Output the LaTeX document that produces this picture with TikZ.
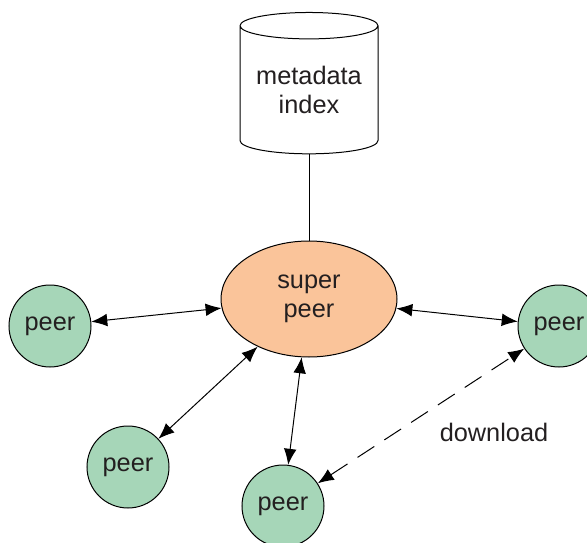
\documentclass[tikz,border=0pt]{standalone}
\usepackage{fontspec}
\setmainfont{Liberation Sans}
\usepackage{tikz}
\usetikzlibrary{positioning}
\usetikzlibrary{arrows.meta}
\usetikzlibrary{shapes.geometric}

\definecolor{peergreen}{RGB}{166,214,184}
\definecolor{superorange}{RGB}{250,196,154}
\definecolor{textgray}{RGB}{35,31,32}

\begin{document}
\begin{tikzpicture}[x=0.75pt,y=-0.75pt,line width=0.75pt,
	>={Latex[length=12pt,width=9.5pt]},
	every node/.style={font=\fontsize{19}{22}\selectfont, text=textgray, align=center},
	peerstyle/.style={circle, draw, fill=peergreen, minimum size=61.5pt, inner sep=0pt},
	superpeer/.style={ellipse, draw, fill=superorange, minimum width=132pt, minimum height=87pt, inner sep=0pt},
	indexdb/.style={cylinder, shape border rotate=90, aspect=0.25, draw, fill=white, minimum width=103.5pt, minimum height=106pt, inner sep=0pt},
	dload/.style={dash pattern=on 15pt off 9pt}]

	\useasboundingbox (0,0) rectangle (587,543);

	% super peer and its index
	\node (super) [superpeer] at (309,299) {super\\peer};
	\node (index) [indexdb] at (309,90) {metadata\\index};

	\draw (index) -- (super);

	% peers round the super peer
	\node (peerL) [peerstyle] at (50,326) {peer};
	\node (peerBL) [peerstyle] at (128,467) {peer};
	\node (peerB) [peerstyle] at (283,506) {peer};
	\node (peerR) [peerstyle] at (559,326) {peer};

	\draw [<->] (peerL) edge (super);
	\draw [<->] (peerBL) edge (super);
	\draw [<->] (peerB) edge (super);
	\draw [<->] (peerR) edge (super);

	% download between two peers
	\draw [<->, dload] (peerB) edge (peerR);
	\node (download) at (494,432) {download};
\end{tikzpicture}
\end{document}
